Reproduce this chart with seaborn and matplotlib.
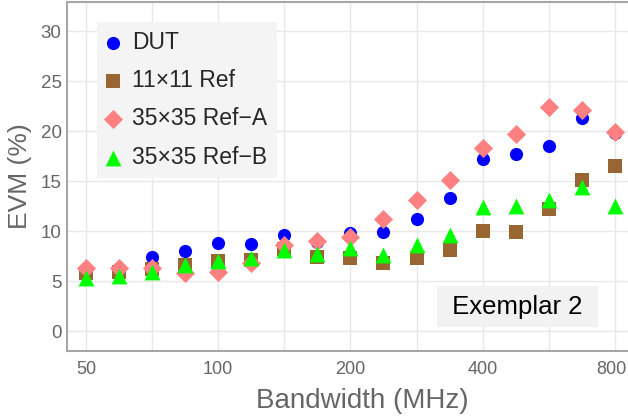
import numpy as np
import pandas as pd
import matplotlib
matplotlib.use("Agg")
import matplotlib.pyplot as plt
import matplotlib.transforms as mtransforms
from matplotlib.ticker import NullFormatter
import seaborn as sns

# Bandwidth points (MHz), quarter-octave steps
bandwidth = [50, 59.5, 70.7, 84.1, 100, 118.9, 141.4, 168.2, 200,
             237.8, 282.8, 336.4, 400, 475.7, 565.7, 672.7, 800]

# EVM (%) per series
evm_dut = [6.2, 6.2, 7.4, 8.0, 8.8, 8.7, 9.6, 8.9, 9.8,
           9.9, 11.2, 13.3, 17.2, 17.7, 18.5, 21.3, 19.8]
evm_11 = [5.8, 5.9, 6.2, 6.6, 7.0, 7.1, 8.2, 7.4, 7.3,
          6.8, 7.3, 8.1, 10.0, 9.9, 12.2, 15.1, 16.5]
evm_35a = [6.3, 6.3, 6.3, 5.8, 5.9, 6.8, 8.6, 9.0, 9.4,
           11.2, 13.1, 15.1, 18.3, 19.7, 22.4, 22.1, 19.9]
evm_35b = [5.3, 5.5, 5.9, 6.6, 7.0, 7.3, 8.1, 7.7, 8.3,
           7.6, 8.6, 9.6, 12.4, 12.5, 13.1, 14.4, 12.5]

series = ["DUT", "11×11 Ref", "35×35 Ref−A", "35×35 Ref−B"]
colors = ["#0000ff", "#996633", "#ff8080", "#00ff00"]
markers = ["o", "s", "D", "^"]
sizes = [90, 100, 95, 130]

df = pd.concat([
    pd.DataFrame({"bw": bandwidth, "evm": v, "series": s})
    for s, v in zip(series, [evm_dut, evm_11, evm_35a, evm_35b])
])

sns.set_style("white")
plt.rcParams["font.family"] = ["Liberation Sans", "DejaVu Sans"]

fig = plt.figure(figsize=(6.28, 4.16), dpi=100)
ax = fig.add_axes([0.107, 0.156, 0.893, 0.839])

for s, c, m, sz in zip(series, colors, markers, sizes):
    sub = df[df["series"] == s]
    sns.scatterplot(data=sub, x="bw", y="evm", color=c, marker=m, s=sz,
                    linewidth=0, label=s, ax=ax, zorder=3)

ax.set_xscale("log")
ax.set_xlim(45.3, 857)
ax.set_ylim(-2, 32.9)
ax.set_xticks([50, 100, 200, 400, 800])
ax.set_xticklabels(["50", "100", "200", "400", "800"])
ax.set_xticks([70.7, 141.4, 282.8, 565.7], minor=True)
ax.xaxis.set_minor_formatter(NullFormatter())
ax.set_yticks([0, 5, 10, 15, 20, 25, 30])
ax.grid(True, which="both", color="#e8e8e8", lw=1)
ax.set_axisbelow(True)

gray = "#666666"
ax.tick_params(axis="both", which="major", direction="in", length=5,
               width=1, color="#999999", labelcolor=gray)
ax.tick_params(axis="y", which="major", labelsize=13.5, pad=4)
ax.tick_params(axis="x", which="major", labelsize=13, pad=7)
ax.tick_params(axis="x", which="minor", length=0)
for side in ["left", "bottom", "top"]:
    ax.spines[side].set_color("#a6a6a6")
    ax.spines[side].set_linewidth(1.5)
ax.spines["right"].set_visible(False)

# keep the last x label inside the image
last = ax.get_xticklabels()[-1]
last.set_transform(last.get_transform() +
                   mtransforms.ScaledTranslation(-3 / 100, 0, fig.dpi_scale_trans))

ax.set_xlabel("Bandwidth (MHz)", fontsize=20, color=gray)
ax.xaxis.set_label_coords(0.526, -0.105)
ax.set_ylabel("EVM (%)", fontsize=19, color=gray, labelpad=6)

leg = ax.legend(loc="upper left", bbox_to_anchor=(0.0535, 0.943), fontsize=16.5,
                frameon=True, fancybox=False, edgecolor="none",
                facecolor="#f4f4f4", framealpha=1, handletextpad=0.54,
                labelspacing=0.66, borderpad=0.4, handlelength=0.6,
                borderaxespad=0)

ax.text(0.803, 0.1275, " Exemplar 2 ", transform=ax.transAxes, fontsize=18.5,
        ha="center", va="center", color="black",
        bbox=dict(facecolor="#f2f2f2", edgecolor="none", pad=6))

fig.savefig("out.png", dpi=100)
